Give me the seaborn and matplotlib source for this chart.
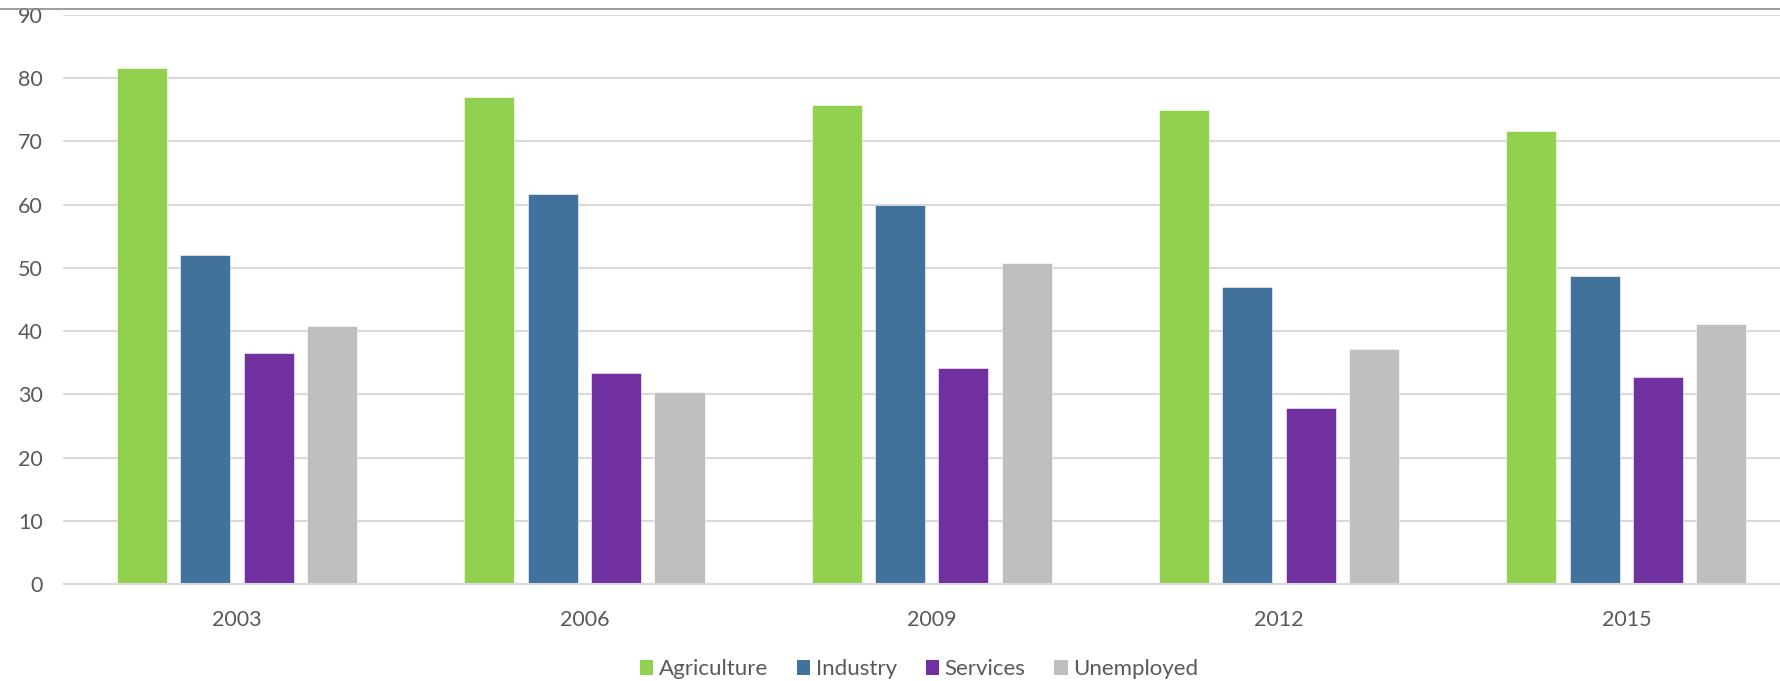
import numpy as np
import pandas as pd
import seaborn as sns
import matplotlib
matplotlib.use("Agg")
import matplotlib.pyplot as plt
from matplotlib.lines import Line2D
from matplotlib.patches import Patch

years = ["2003", "2006", "2009", "2012", "2015"]
sectors = ["Agriculture", "Industry", "Services", "Unemployed"]
agriculture = [81.6, 77.1, 75.8, 75.0, 71.7]
industry = [52.0, 61.7, 60.0, 47.0, 48.7]
services = [36.6, 33.3, 34.2, 27.9, 32.7]
unemployed = [40.8, 30.3, 50.8, 37.1, 41.2]
colors = ["#92D050", "#41729B", "#7030A0", "#BFBFBF"]

sns.set_theme(style="white")
plt.rcParams['font.family'] = ['Lato', 'DejaVu Sans']

df = pd.DataFrame({
    "Year": years * 4,
    "Sector": np.repeat(sectors, len(years)),
    "Value": agriculture + industry + services + unemployed,
})

W, H = 1781, 681
fig = plt.figure(figsize=(W / 100, H / 100), dpi=100)
ax = fig.add_axes([63.5 / W, 97 / H, 1736.5 / W, 569 / H])
sns.barplot(data=df, x="Year", y="Value", hue="Sector", order=years,
            hue_order=sectors, palette=colors, width=0.73, gap=0.21,
            saturation=1, legend=False, edgecolor="white", linewidth=0.4,
            ax=ax)
ax.set_ylim(0, 90)
ax.set_xlim(-0.5, 4.5)
ax.set_yticks(range(0, 91, 10))
ax.yaxis.grid(True, color="#D9D9D9", linewidth=1.5)
ax.xaxis.grid(False)
ax.set_axisbelow(True)
for s in ["left", "right", "top"]:
    ax.spines[s].set_visible(False)
ax.spines["bottom"].set_color("#D9D9D9")
ax.spines["bottom"].set_linewidth(1.5)
ax.tick_params(axis="both", length=0, labelsize=15.5, labelcolor="#595959")
ax.tick_params(axis="y", pad=15)
ax.tick_params(axis="x", pad=19)
ax.set_xlabel("")
ax.set_ylabel("")

handles = [Patch(facecolor=c, edgecolor="none") for c in colors]
fig.legend(handles, sectors, loc="lower center", bbox_to_anchor=(0.516, -0.027),
           ncol=4, frameon=False, fontsize=16, handlelength=0.6,
           handleheight=0.6, handletextpad=0.25, columnspacing=1.3,
           labelcolor="#595959")
fig.add_artist(Line2D([0, 1], [1 - 8.5 / H] * 2, color="#8C8C8C",
                      linewidth=1.2, transform=fig.transFigure))
fig.savefig("out.png", dpi=100)
